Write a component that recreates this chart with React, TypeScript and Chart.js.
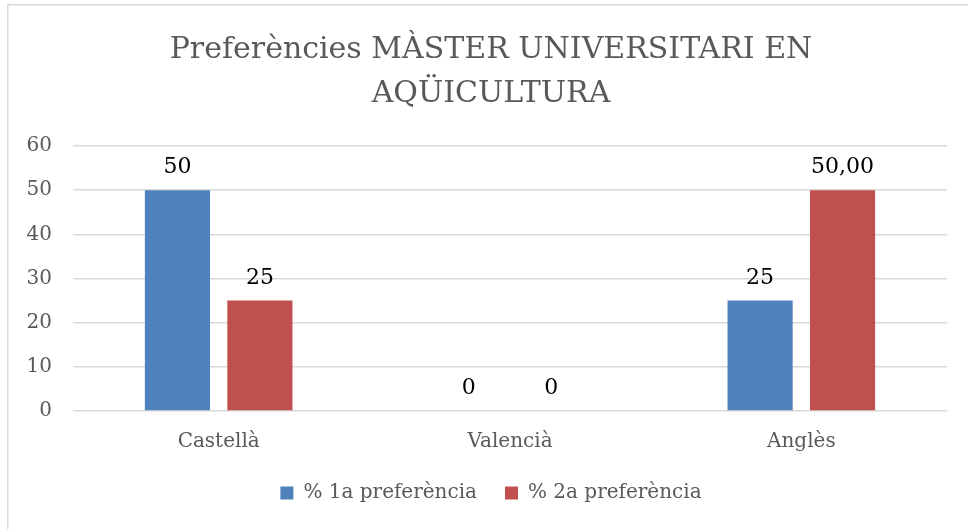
import React, { useEffect, useRef } from "react";
import { Chart, registerables } from "chart.js";

Chart.register(...registerables);

const categories = ["Castellà", "Valencià", "Anglès"];
const seriesNames = ["% 1a preferència", "% 2a preferència"];
const pref1 = [50, 0, 25];
const pref2 = [25, 0, 50];
const pref1Labels = ["50", "0", "25"];
const pref2Labels = ["25", "0", "50,00"];
const titleLines = ["Preferències MÀSTER UNIVERSITARI EN", "AQÜICULTURA"];
const yMin = 0;
const yMax = 60;
const yStep = 10;

const FONT = "'DejaVu Serif', serif";
const GRAY = "#595959";
const BLUE = "#4F81BD";
const RED = "#C0504D";

const framePlugin = {
  id: "frame",
  beforeDraw(chart: any) {
    const { ctx, width, height } = chart;
    ctx.save();
    ctx.fillStyle = "#ffffff";
    ctx.fillRect(0, 0, width, height);
    ctx.strokeStyle = "#d9d9d9";
    ctx.lineWidth = 1.5;
    ctx.beginPath();
    ctx.moveTo(7.75, height + 2);
    ctx.lineTo(7.75, 4.75);
    ctx.lineTo(width + 2, 4.75);
    ctx.stroke();
    ctx.restore();
  },
};

const valueLabelPlugin = {
  id: "valueLabels",
  afterDatasetsDraw(chart: any) {
    const { ctx } = chart;
    const texts = [pref1Labels, pref2Labels];
    ctx.save();
    ctx.font = `22px ${FONT}`;
    ctx.fillStyle = "#000000";
    ctx.textAlign = "center";
    ctx.textBaseline = "alphabetic";
    chart.data.datasets.forEach((_ds: any, di: number) => {
      const meta = chart.getDatasetMeta(di);
      meta.data.forEach((el: any, i: number) => {
        ctx.fillText(texts[di][i], el.x, el.y - 17);
      });
    });
    ctx.restore();
  },
};

export default function App() {
  const ref = useRef<HTMLCanvasElement | null>(null);

  useEffect(() => {
    if (!ref.current) return;
    const chart = new Chart(ref.current, {
      type: "bar",
      data: {
        labels: categories,
        datasets: [
          {
            label: seriesNames[0],
            data: pref1,
            backgroundColor: BLUE,
            borderWidth: 0,
            yAxisID: "y",
          },
          {
            label: seriesNames[1],
            data: pref2,
            backgroundColor: RED,
            borderWidth: 0,
            yAxisID: "y",
          },
        ],
      },
      options: {
        responsive: false,
        animation: false,
        devicePixelRatio: 1,
        layout: { padding: { left: 14, right: 0, top: 0, bottom: 16 } },
        datasets: {
          bar: { categoryPercentage: 0.566, barPercentage: 0.79 },
        },
        plugins: {
          title: {
            display: true,
            text: titleLines,
            color: GRAY,
            font: { family: FONT, size: 30, weight: "normal", lineHeight: "44px" },
            padding: { top: 28, bottom: 30 },
          },
          legend: {
            display: true,
            position: "bottom",
            labels: {
              boxWidth: 13,
              boxHeight: 13,
              padding: 28,
              color: GRAY,
              font: { family: FONT, size: 20 },
            },
          },
          tooltip: { enabled: false },
        },
        scales: {
          x: {
            grid: { display: false, drawTicks: false },
            border: { display: false },
            ticks: {
              color: GRAY,
              padding: 19,
              font: { family: FONT, size: 20 },
            },
            afterFit: (s: any) => {
              s.height = 44;
            },
          },
          y: {
            min: yMin,
            max: yMax,
            grid: { color: "#d9d9d9", lineWidth: 1.5, drawTicks: false },
            border: { display: false },
            ticks: {
              stepSize: yStep,
              color: GRAY,
              padding: 21,
              font: { family: FONT, size: 20 },
            },
            afterFit: (s: any) => {
              s.width = 59;
            },
          },
          yRight: {
            position: "right",
            display: true,
            grid: { display: false, drawTicks: false },
            border: { display: false },
            ticks: { display: false },
            afterFit: (s: any) => {
              s.width = 21;
            },
          },
        },
      },
      plugins: [framePlugin, valueLabelPlugin],
    } as any);
    return () => chart.destroy();
  }, []);

  return (
    <div style={{ position: "absolute", left: 0, top: 0, width: 968, height: 529, overflow: "hidden" }}>
      <canvas ref={ref} width={968} height={529} style={{ display: "block" }} />
    </div>
  );
}
